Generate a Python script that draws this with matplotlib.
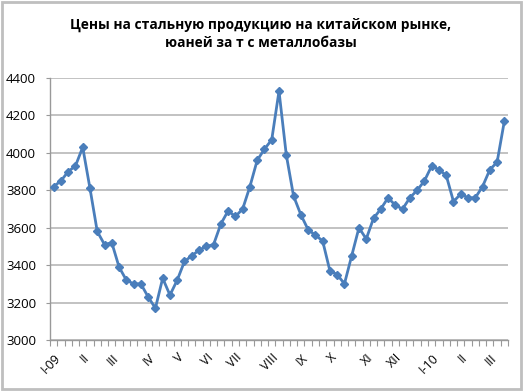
import matplotlib
matplotlib.use("Agg")
import matplotlib.pyplot as plt
from matplotlib.patches import Rectangle

title = "Цены на стальную продукцию на китайском рынке,\nюаней за т с металлобазы"

prices = [3820, 3850, 3900, 3930, 4030, 3810, 3580, 3510, 3520, 3390,
          3320, 3300, 3300, 3230, 3170, 3330, 3240, 3320, 3420, 3450,
          3480, 3500, 3510, 3620, 3690, 3660, 3700, 3820, 3960, 4020,
          4070, 4330, 3990, 3770, 3670, 3590, 3560, 3530, 3370, 3350,
          3300, 3450, 3600, 3540, 3650, 3700, 3760, 3720, 3700, 3760,
          3800, 3850, 3930, 3910, 3880, 3740, 3780, 3760, 3760, 3820,
          3910, 3950, 4170]

month_labels = ["I-09", "II", "III", "IV", "V", "VI", "VII", "VIII", "IX",
                "X", "XI", "XII", "I-10", "II", "III"]
month_positions = [0, 4, 8, 13, 17, 21, 25, 30, 34, 38, 43, 47, 52, 56, 60]

y_ticks = [3000, 3200, 3400, 3600, 3800, 4000, 4200, 4400]

fig = plt.figure(figsize=(5.23, 3.91), dpi=100)
plt.rcParams['font.family'] = ['Open Sans', 'DejaVu Sans']

# chart border
fig.patches.append(Rectangle((0.004, 0.004), 0.992, 0.99, transform=fig.transFigure,
                             fill=False, edgecolor='#BFBFBF', linewidth=2))

ax = fig.add_axes([50/523, 1-340/391, (508-50)/523, (340-78)/391])
n = len(prices)
x = list(range(n))
ax.plot(x, prices, color='#4A7EBB', linewidth=2, marker='D', markersize=4.5,
        markerfacecolor='#4A7EBB', markeredgecolor='#4A7EBB', zorder=3)

ax.set_xlim(-0.5, n - 0.5)
ax.set_ylim(3000, 4400)
ax.set_yticks(y_ticks)
ax.set_yticklabels([str(v) for v in y_ticks], fontsize=9.5)
ax.yaxis.grid(True, color='#B8B8B8', linewidth=1.2)
ax.set_axisbelow(True)

ax.set_xticks(month_positions)
ax.set_xticklabels(month_labels, rotation=45, ha='right', va='top',
                   rotation_mode='anchor', fontsize=9)
ax.tick_params(axis='x', which='major', length=0, pad=8)
ax.set_xticks([i - 0.5 for i in range(n + 1)], minor=True)
ax.tick_params(axis='x', which='minor', length=4, color='#999999', width=0.8)
ax.tick_params(axis='y', length=3, color='#999999', width=0.8, pad=7)

for s in ['top', 'right']:
    ax.spines[s].set_visible(False)
for s in ['left', 'bottom']:
    ax.spines[s].set_color('#999999')
    ax.spines[s].set_linewidth(1.0)

fig.text(0.498, 0.955, title, ha='center', va='top', fontsize=9.9, fontweight='bold',
         linespacing=1.4)

fig.savefig("out.png", dpi=100)
